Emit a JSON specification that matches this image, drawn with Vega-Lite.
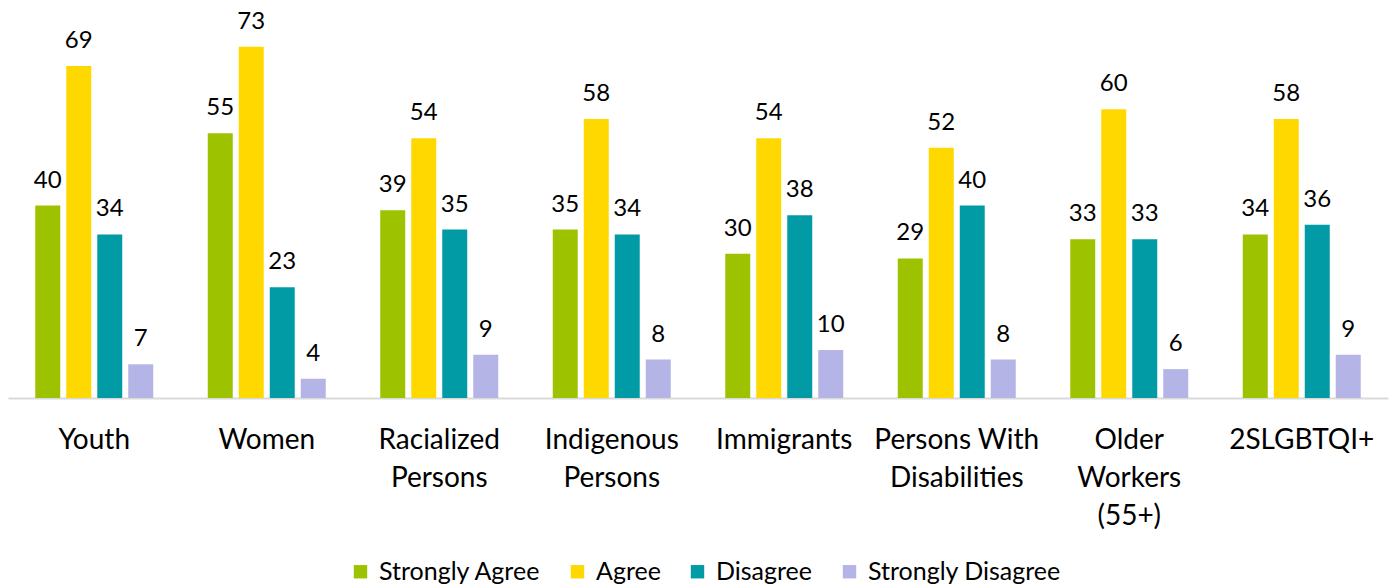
{
  "$schema": "https://vega.github.io/schema/vega-lite/v6.json",
  "autosize": {"type": "none"},
  "width": 1380,
  "height": 385,
  "padding": {"left": 8, "top": 13, "right": 6, "bottom": 188},
  "background": "white",
  "config": {"view": {"stroke": null}, "font": "Lato"},
  "data": {"values": [
    {"group": "Youth", "response": "Strongly Agree", "value": 40},
    {"group": "Youth", "response": "Agree", "value": 69},
    {"group": "Youth", "response": "Disagree", "value": 34},
    {"group": "Youth", "response": "Strongly Disagree", "value": 7},
    {"group": "Women", "response": "Strongly Agree", "value": 55},
    {"group": "Women", "response": "Agree", "value": 73},
    {"group": "Women", "response": "Disagree", "value": 23},
    {"group": "Women", "response": "Strongly Disagree", "value": 4},
    {"group": "Racialized Persons", "response": "Strongly Agree", "value": 39},
    {"group": "Racialized Persons", "response": "Agree", "value": 54},
    {"group": "Racialized Persons", "response": "Disagree", "value": 35},
    {"group": "Racialized Persons", "response": "Strongly Disagree", "value": 9},
    {"group": "Indigenous Persons", "response": "Strongly Agree", "value": 35},
    {"group": "Indigenous Persons", "response": "Agree", "value": 58},
    {"group": "Indigenous Persons", "response": "Disagree", "value": 34},
    {"group": "Indigenous Persons", "response": "Strongly Disagree", "value": 8},
    {"group": "Immigrants", "response": "Strongly Agree", "value": 30},
    {"group": "Immigrants", "response": "Agree", "value": 54},
    {"group": "Immigrants", "response": "Disagree", "value": 38},
    {"group": "Immigrants", "response": "Strongly Disagree", "value": 10},
    {"group": "Persons With Disabilities", "response": "Strongly Agree", "value": 29},
    {"group": "Persons With Disabilities", "response": "Agree", "value": 52},
    {"group": "Persons With Disabilities", "response": "Disagree", "value": 40},
    {"group": "Persons With Disabilities", "response": "Strongly Disagree", "value": 8},
    {"group": "Older Workers (55+)", "response": "Strongly Agree", "value": 33},
    {"group": "Older Workers (55+)", "response": "Agree", "value": 60},
    {"group": "Older Workers (55+)", "response": "Disagree", "value": 33},
    {"group": "Older Workers (55+)", "response": "Strongly Disagree", "value": 6},
    {"group": "2SLGBTQI+", "response": "Strongly Agree", "value": 34},
    {"group": "2SLGBTQI+", "response": "Agree", "value": 58},
    {"group": "2SLGBTQI+", "response": "Disagree", "value": 36},
    {"group": "2SLGBTQI+", "response": "Strongly Disagree", "value": 9}
  ]},
  "encoding": {
    "x": {
      "field": "group", "type": "nominal", "sort": null,
      "scale": {"paddingInner": 0.316, "paddingOuter": 0.158},
      "axis": {
        "title": null, "labelAngle": 0, "ticks": false,
        "domainColor": "#d9d9d9", "domainWidth": 2,
        "labelFontSize": 28, "labelColor": "#000000", "labelFont": "Lato",
        "labelPadding": 50, "labelLineHeight": 38, "labelLimit": 300,
        "labelBaseline": "alphabetic",
        "labelExpr": "datum.value == 'Persons With Disabilities' ? ['Persons With', 'Disabilities'] : split(datum.value, ' ')"
      }
    },
    "xOffset": {
      "field": "response", "type": "nominal", "sort": ["Strongly Agree", "Agree", "Disagree", "Strongly Disagree"],
      "scale": {"paddingInner": 0.194, "paddingOuter": 0}
    },
    "y": {
      "field": "value", "type": "quantitative",
      "scale": {"domain": [0, 80]},
      "axis": null
    }
  },
  "layer": [
    {
      "mark": {"type": "bar"},
      "encoding": {
        "color": {
          "field": "response", "type": "nominal",
          "sort": ["Strongly Agree", "Agree", "Disagree", "Strongly Disagree"],
          "scale": {
            "domain": ["Strongly Agree", "Agree", "Disagree", "Strongly Disagree"],
            "range": ["#9dc300", "#ffd800", "#009ba5", "#b4b4e6"]
          },
          "legend": {
            "title": null, "orient": "none", "direction": "horizontal",
            "legendX": 340, "legendY": 546,
            "symbolType": "square", "symbolSize": 180, "symbolStrokeWidth": 0,
            "labelFontSize": 25, "labelFont": "Lato", "labelColor": "#000000",
            "labelOffset": 6, "columnPadding": 24, "labelLimit": 400
          }
        }
      }
    },
    {
      "mark": {"type": "text", "baseline": "alphabetic", "dy": -18, "fontSize": 24, "font": "Lato", "color": "#000000"},
      "encoding": {"text": {"field": "value", "type": "quantitative"}}
    }
  ]
}
